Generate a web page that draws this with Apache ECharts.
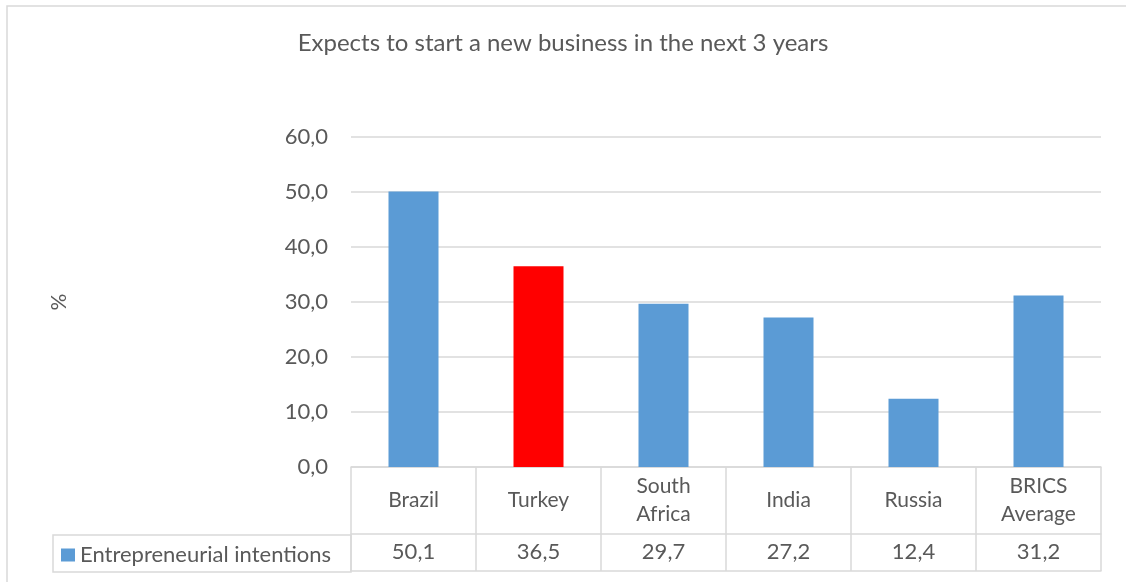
<!DOCTYPE html>
<html>
<head>
<meta charset="utf-8">
<script src="https://cdn.jsdelivr.net/npm/echarts@6/dist/echarts.min.js"></script>
<style>
html,body{margin:0;padding:0;background:#fff;}
#c{width:1126px;height:582px;}
</style>
</head>
<body>
<div id="c"></div>
<script>
const titleText = 'Expects to start a new business in the next 3 years';
const seriesName = 'Entrepreneurial intentions';
const categories = ['Brazil', 'Turkey', 'South\nAfrica', 'India', 'Russia', 'BRICS\nAverage'];
const values = [50.1, 36.5, 29.7, 27.2, 12.4, 31.2];
const highlightIndex = 1;
const yTicks = [0, 10, 20, 30, 40, 50, 60];

const FONT = 'Lato';
const TXT = '#595959';
const LINE = '#d9d9d9';
const BLUE = '#5b9bd5';
const RED = '#ff0000';

const fmt = v => Number(v).toFixed(1).replace('.', ',');

const chart = echarts.init(document.getElementById('c'), null, {renderer: 'canvas'});
chart.setOption({
  backgroundColor: '#fff',
  animation: false,
  title: {
    text: titleText,
    left: 'center',
    top: 26,
    padding: [5, 5, 5, 17],
    textStyle: {fontFamily: FONT, fontSize: 24, fontWeight: 'normal', color: TXT}
  },
  legend: {
    left: 56,
    top: 539,
    icon: 'rect',
    itemWidth: 14,
    itemHeight: 13,
    itemGap: 6,
    textStyle: {fontFamily: FONT, fontSize: 22, color: TXT},
    data: [seriesName]
  },
  grid: {left: 351, right: 25, top: 137, bottom: 115, containLabel: false},
  xAxis: [
    {
      type: 'category',
      data: categories,
      position: 'bottom',
      axisLine: {show: true, lineStyle: {color: LINE, width: 1.5}},
      axisTick: {show: true, length: 67, lineStyle: {color: LINE, width: 1.5}},
      axisLabel: {
        fontFamily: FONT, fontSize: 21, color: TXT,
        margin: 33, verticalAlign: 'middle', lineHeight: 28, interval: 0
      },
      splitLine: {show: false}
    },
    {
      type: 'category',
      data: categories,
      position: 'bottom',
      offset: 67,
      axisLine: {show: true, lineStyle: {color: LINE, width: 1.5}},
      axisTick: {show: true, length: 37, lineStyle: {color: LINE, width: 1.5}},
      axisLabel: {
        fontFamily: FONT, fontSize: 22, color: TXT,
        margin: 18, verticalAlign: 'middle', interval: 0,
        formatter: (v, i) => fmt(values[i])
      }
    },
    {
      type: 'category',
      data: categories,
      position: 'bottom',
      offset: 104,
      axisLine: {show: true, lineStyle: {color: LINE, width: 1.5}},
      axisTick: {show: false},
      axisLabel: {show: false}
    }
  ],
  yAxis: {
    type: 'value',
    min: yTicks[0],
    max: yTicks[yTicks.length - 1],
    interval: yTicks[1] - yTicks[0],
    name: '%',
    nameLocation: 'middle',
    nameGap: 281,
    nameTextStyle: {fontFamily: FONT, fontSize: 21, color: TXT},
    axisLine: {show: false},
    axisTick: {show: false},
    axisLabel: {fontFamily: FONT, fontSize: 22, color: TXT, margin: 23, formatter: v => fmt(v)},
    splitLine: {show: true, lineStyle: {color: LINE, width: 1.5}}
  },
  series: [{
    name: seriesName,
    type: 'bar',
    xAxisIndex: 0,
    barWidth: '40%',
    itemStyle: {color: BLUE},
    data: values.map((v, i) => i === highlightIndex ? {value: v, itemStyle: {color: RED}} : v)
  }],
  graphic: [
    {
      type: 'rect',
      shape: {x: 7, y: 6, width: 1200, height: 700},
      style: {fill: 'none', stroke: LINE, lineWidth: 1.5},
      silent: true
    },
    {
      type: 'rect',
      shape: {x: 53, y: 535, width: 298, height: 37},
      style: {fill: 'none', stroke: LINE, lineWidth: 1.5},
      silent: true
    }
  ]
});
</script>
</body>
</html>
